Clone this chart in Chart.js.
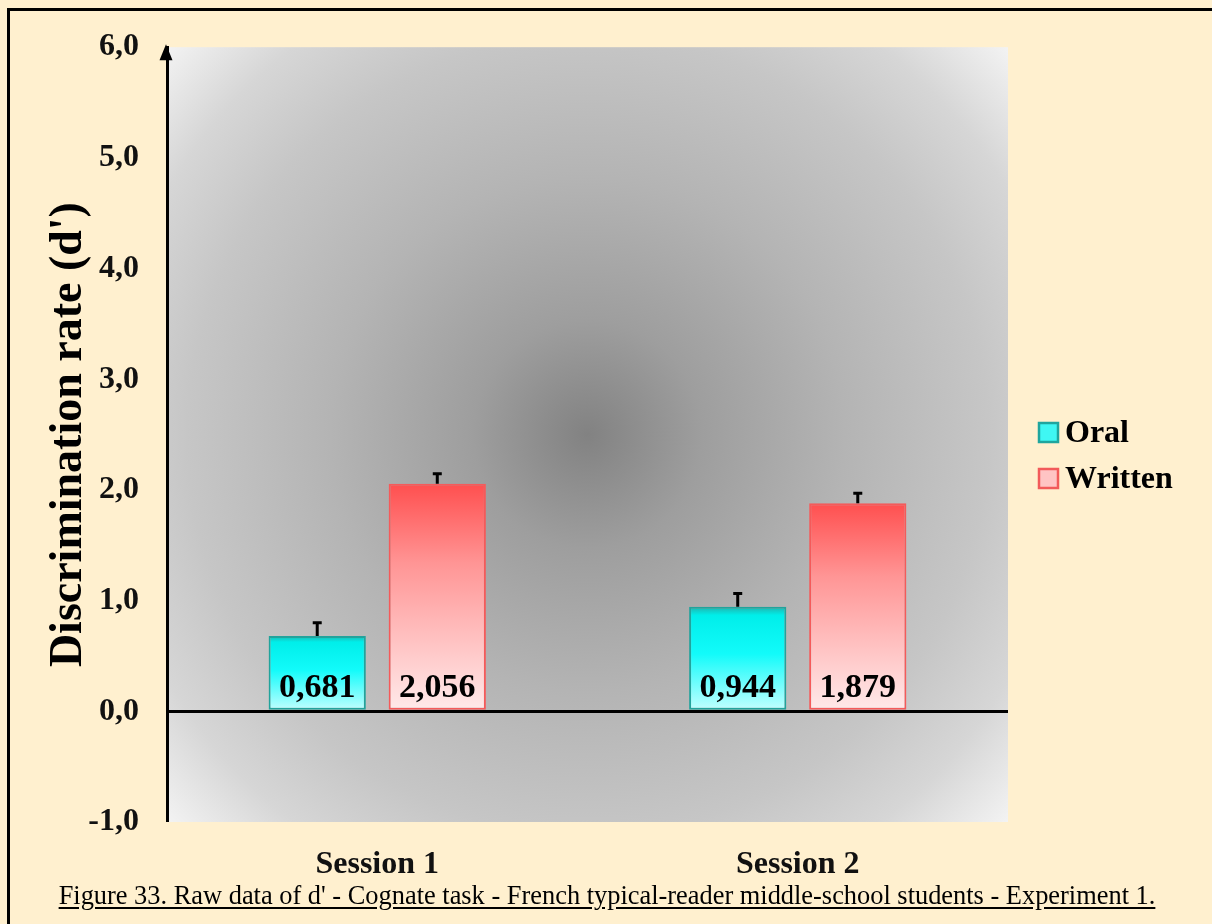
<!DOCTYPE html>
<html>
<head>
<meta charset="utf-8">
<script src="https://cdn.jsdelivr.net/npm/chart.js@4"></script>
<style>
  html, body { margin: 0; padding: 0; background: #FFF0CF; }
  #wrap { position: relative; width: 1212px; height: 924px; overflow: hidden; }
  #frame { position: absolute; left: 7px; top: 8px; right: -10px; bottom: -10px;
           border-left: 3px solid #000; border-top: 3px solid #000; pointer-events: none; }
  #caption { position: absolute; left: 0; width: 1214px; top: 880px; line-height: 34px;
             text-align: center; font: 26.4px "Liberation Serif", "Times New Roman", serif;
             color: #000; text-decoration: underline; text-underline-offset: 3px; }
</style>
</head>
<body>
<div id="wrap">
  <canvas id="myChart" width="1212" height="924"></canvas>
  <div id="frame"></div>
  <div id="caption">Figure 33. Raw data of d' - Cognate task - French typical-reader middle-school students - Experiment 1.</div>
</div>
<script>
// data
const sessions = ['Session 1', 'Session 2'];
const seriesNames = ['Oral', 'Written'];
const oralValues = [0.681, 0.944];
const writtenValues = [2.056, 1.879];
const oralErrors = [0.12, 0.12];
const writtenErrors = [0.09, 0.09];

const serif = '"Liberation Serif", "Times New Roman", serif';
const fmt = (v, d) => v.toFixed(d).replace('.', ',');

// gradient that runs over the height of each bar
function barGradient(stops) {
    return function(ctx) {
        const chart = ctx.chart;
        if (ctx.type !== 'data' || !chart.chartArea || !chart.scales.y) return stops[1][1];
        const y = chart.scales.y;
        const top = y.getPixelForValue(ctx.raw);
        const base = y.getPixelForValue(0);
        const g = chart.ctx.createLinearGradient(0, top, 0, base);
        stops.forEach(s => g.addColorStop(s[0], s[1]));
        return g;
    };
}

const oralStops = [[0, '#1FB3AC'], [0.08, '#00EEEA'], [0.45, '#12FBFA'], [1, '#C6FFFF']];
const writtenStops = [[0, '#FF4F4F'], [0.35, '#FF9595'], [0.75, '#FFCACA'], [1, '#FFEAEA']];

// radial grey background of the plot area + axis arrow
const plotBackground = {
    id: 'plotBackground',
    beforeDraw(chart) {
        const { ctx, chartArea: a } = chart;
        const cx = a.left + (a.right - a.left) * 0.5;
        const cy = a.top + (a.bottom - a.top) * 0.5;
        const r = Math.hypot(a.right - cx, a.bottom - cy);
        const g = ctx.createRadialGradient(cx, cy, 0, cx, cy, r);
        g.addColorStop(0, '#828282');
        g.addColorStop(0.2, '#9e9e9e');
        g.addColorStop(0.45, '#b4b4b4');
        g.addColorStop(0.7, '#c6c6c6');
        g.addColorStop(0.85, '#d6d6d6');
        g.addColorStop(1, '#f3f3f3');
        ctx.save();
        ctx.fillStyle = g;
        ctx.fillRect(a.left, a.top, a.right - a.left, a.bottom - a.top);
        ctx.restore();
    },
    afterDraw(chart) {
        const { ctx, chartArea: a } = chart;
        const x = a.left - 1;
        ctx.save();
        ctx.fillStyle = '#000';
        ctx.beginPath();
        ctx.moveTo(x, a.top - 3);
        ctx.lineTo(x - 6.5, a.top + 13);
        ctx.lineTo(x + 6.5, a.top + 13);
        ctx.closePath();
        ctx.fill();
        ctx.restore();
    }
};

// upper error bars and value labels inside the bars
const barExtras = {
    id: 'barExtras',
    afterDatasetsDraw(chart) {
        const { ctx } = chart;
        const y = chart.scales.y;
        const errs = [oralErrors, writtenErrors];
        ctx.save();
        chart.data.datasets.forEach((ds, i) => {
            const meta = chart.getDatasetMeta(i);
            meta.data.forEach((bar, j) => {
                const v = ds.data[j];
                const top = y.getPixelForValue(v + errs[i][j]);
                ctx.strokeStyle = '#000';
                ctx.lineWidth = 3;
                ctx.beginPath();
                ctx.moveTo(bar.x, bar.y);
                ctx.lineTo(bar.x, top);
                ctx.moveTo(bar.x - 4.5, top);
                ctx.lineTo(bar.x + 4.5, top);
                ctx.stroke();

                ctx.fillStyle = '#000';
                ctx.font = 'bold 34px ' + serif;
                ctx.textAlign = 'center';
                ctx.textBaseline = 'middle';
                ctx.fillText(fmt(v, 3), bar.x, y.getPixelForValue(0) - 23);
            });
        });
        ctx.restore();
    }
};

// legend on the right
const sideLegend = {
    id: 'sideLegend',
    afterDraw(chart) {
        const { ctx } = chart;
        const items = [
            { fill: '#3FF7F3', stroke: '#1FA59E', y: 433 },
            { fill: '#FFC4C4', stroke: '#F25A5A', y: 479 }
        ];
        ctx.save();
        items.forEach((it, i) => {
            ctx.fillStyle = it.fill;
            ctx.strokeStyle = it.stroke;
            ctx.lineWidth = 2.5;
            ctx.fillRect(1039, it.y - 10, 19, 19);
            ctx.strokeRect(1039, it.y - 10, 19, 19);
            ctx.fillStyle = '#000';
            ctx.font = 'bold 32px ' + serif;
            ctx.textAlign = 'left';
            ctx.textBaseline = 'middle';
            ctx.fillText(seriesNames[i], 1065, it.y + 1);
        });
        ctx.restore();
    }
};

const ctx = document.getElementById('myChart').getContext('2d');
const myChart = new Chart(ctx, {
    type: 'bar',
    data: {
        labels: sessions,
        datasets: [{
            label: seriesNames[0],
            data: oralValues,
            backgroundColor: barGradient(oralStops),
            borderColor: '#22A39C',
            borderWidth: 2,
            borderSkipped: false
        }, {
            label: seriesNames[1],
            data: writtenValues,
            backgroundColor: barGradient(writtenStops),
            borderColor: '#F55A5A',
            borderWidth: 2,
            borderSkipped: false
        }]
    },
    options: {
        responsive: false,
        animation: false,
        categoryPercentage: 0.571,
        barPercentage: 0.81,
        layout: { padding: { top: 45, right: 204, bottom: 0, left: 0 } },
        plugins: {
            legend: { display: false },
            tooltip: { enabled: false }
        },
        scales: {
            x: {
                grid: { display: false, drawTicks: false },
                border: { display: false },
                ticks: {
                    padding: 24,
                    color: '#111',
                    font: { family: serif, size: 32, weight: 'bold' }
                },
                afterFit(scale) { scale.height = 102; }
            },
            y: {
                min: -1,
                max: 6,
                ticks: {
                    stepSize: 1,
                    padding: 28,
                    color: '#111',
                    font: { family: serif, size: 32, weight: 'bold' },
                    callback: v => fmt(v, 1)
                },
                grid: {
                    drawTicks: false,
                    color: c => c.tick && c.tick.value === 0 ? '#000' : 'rgba(0,0,0,0)',
                    lineWidth: c => c.tick && c.tick.value === 0 ? 3 : 0
                },
                border: { display: true, color: '#000', width: 3 },
                title: {
                    display: true,
                    text: "Discrimination rate (d')",
                    color: '#000',
                    font: { family: serif, size: 46, weight: 'bold' },
                    padding: { top: 42, bottom: 0 }
                },
                afterFit(scale) { scale.width = 167; }
            }
        }
    },
    plugins: [plotBackground, barExtras, sideLegend]
});
</script>
</body>
</html>
